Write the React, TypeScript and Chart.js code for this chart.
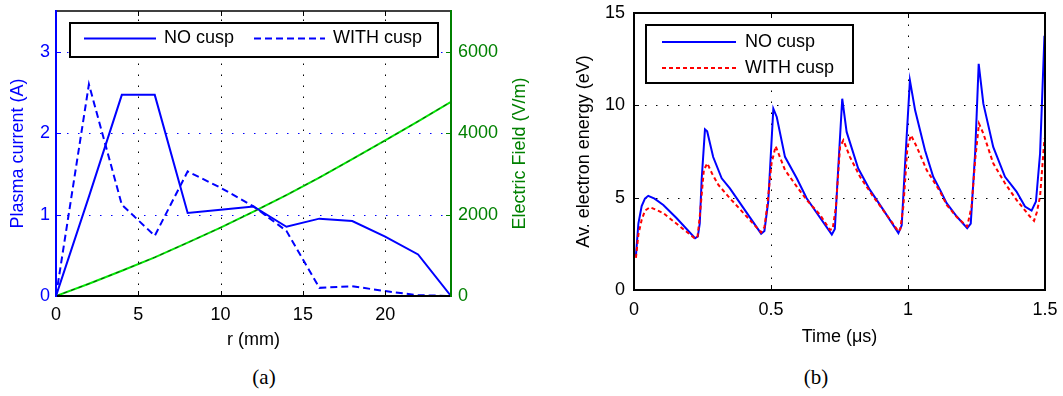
import { useEffect, useRef } from "react";
import { Chart, registerables } from "chart.js";

Chart.register(...registerables);

const FONT = "'Liberation Sans', Arial, Helvetica, sans-serif";

// ---------- (a) Plasma current / electric field vs radius ----------
const radiusMm = [0, 2, 4, 6, 8, 10, 12, 14, 16, 18, 20, 22, 24];
const currentNoCusp = [0, 1.22, 2.47, 2.47, 1.02, 1.06, 1.1, 0.85, 0.95, 0.92, 0.73, 0.51, 0];
const currentWithCusp = [0, 2.6, 1.12, 0.74, 1.53, 1.33, 1.1, 0.8, 0.1, 0.12, 0.06, 0.01, 0];
const fieldNoCusp = [0, 300, 620, 950, 1310, 1680, 2070, 2480, 2910, 3360, 3820, 4290, 4770];
const fieldWithCusp = [0, 300, 620, 950, 1310, 1680, 2070, 2480, 2910, 3360, 3820, 4290, 4770];
const xTicksA = [0, 5, 10, 15, 20];
const yTicksA = [0, 1, 2, 3];
const y2TicksA = [0, 2000, 4000, 6000];

// ---------- (b) Average electron energy vs time ----------
const timeNoCusp = [
  0.007, 0.016, 0.028, 0.04, 0.052, 0.075, 0.107, 0.155, 0.223, 0.233, 0.24, 0.247, 0.259, 0.267, 0.289, 0.32, 0.35,
  0.464, 0.476, 0.49, 0.5085, 0.521, 0.551, 0.594, 0.63, 0.722, 0.733, 0.745, 0.76, 0.776, 0.818, 0.861, 0.91, 0.965,
  0.977, 0.99, 1.007, 1.026, 1.062, 1.092, 1.117, 1.141, 1.178, 1.216, 1.229, 1.245, 1.258, 1.275, 1.311, 1.354, 1.396,
  1.427, 1.451, 1.467, 1.482, 1.498,
];
const energyNoCusp = [
  1.85, 3.6, 4.55, 4.95, 5.1, 4.95, 4.6, 3.9, 2.8, 2.9, 3.6, 6.0, 8.7, 8.6, 7.2, 6.05, 5.5,
  3.05, 3.2, 4.8, 9.82, 9.37, 7.21, 6.05, 4.97, 3.0, 3.3, 6.5, 10.36, 8.56, 6.59, 5.42, 4.34, 3.08,
  3.5, 7.0, 11.35, 9.73, 7.57, 6.13, 5.42, 4.7, 3.98, 3.35, 3.6, 7.4, 12.25, 10.09, 7.75, 6.13, 5.33,
  4.52, 4.3, 4.79, 7.39, 13.77,
];
const timeWithCusp = [
  0.007, 0.016, 0.028, 0.04, 0.058, 0.08, 0.107, 0.168, 0.223, 0.232, 0.24, 0.255, 0.2675, 0.285, 0.308, 0.35,
  0.464, 0.476, 0.486, 0.502, 0.517, 0.551, 0.594, 0.63, 0.679, 0.715, 0.725, 0.737, 0.752, 0.764, 0.788, 0.825,
  0.873, 0.922, 0.965, 0.972, 0.983, 0.998, 1.011, 1.032, 1.068, 1.117, 1.141, 1.178, 1.216, 1.232, 1.245, 1.259,
  1.275, 1.311, 1.354, 1.396, 1.445, 1.46, 1.47, 1.482, 1.498,
];
const energyWithCusp = [
  1.74, 3.0, 3.8, 4.3, 4.48, 4.35, 4.16, 3.44, 2.78, 2.9, 3.98, 6.5, 6.86, 6.3, 5.69, 4.97,
  3.12, 3.4, 4.52, 6.86, 7.79, 6.5, 5.6, 4.88, 4.07, 3.26, 3.3, 4.52, 7.75, 8.11, 7.21, 6.13,
  5.06, 4.07, 3.17, 3.3, 4.52, 7.75, 8.38, 7.75, 6.5, 5.33, 4.61, 3.95, 3.44, 4.52, 7.03, 9.01,
  8.47, 6.86, 5.78, 4.88, 3.98, 3.75, 4.2, 5.06, 8.2,
];
const xTicksB = [0, 0.5, 1, 1.5];
const yTicksB = [0, 5, 10, 15];

// ---------- helpers ----------
type Side = "left" | "right" | "top" | "bottom";
type Edge = { color: string; width: number };
type FrameCfg = {
  grids: { axis: string; values: number[]; color: string }[];
  ticks: { axis: string; values: number[]; color: string; sides: Side[] }[];
  edges: Record<Side, Edge>;
  legendBox: { x: number; y: number; w: number; h: number };
  legendItems: { dataset: number; x1: number; x2: number; y: number; tx: number }[];
  sideTitle?: { text: string; color: string; x: number };
};

function framePlugin(cfg: FrameCfg) {
  return {
    id: "frame",
    beforeDatasetsDraw(chart: any) {
      const { ctx, chartArea: a, scales } = chart;
      ctx.save();
      ctx.lineWidth = 1;
      ctx.setLineDash([1.5, 9.5]);
      for (const g of cfg.grids) {
        const s = scales[g.axis];
        ctx.strokeStyle = g.color;
        for (const v of g.values) {
          const p = Math.round(s.getPixelForValue(v)) + 0.5;
          ctx.beginPath();
          if (s.isHorizontal()) {
            ctx.moveTo(p, a.bottom);
            ctx.lineTo(p, a.top);
          } else {
            ctx.moveTo(a.left, p);
            ctx.lineTo(a.right, p);
          }
          ctx.stroke();
        }
      }
      ctx.restore();
    },
    afterDatasetsDraw(chart: any) {
      const { ctx, chartArea: a, scales } = chart;
      ctx.save();
      ctx.setLineDash([]);
      const L = 5;
      for (const t of cfg.ticks) {
        const s = scales[t.axis];
        ctx.strokeStyle = t.color;
        ctx.lineWidth = 1;
        for (const v of t.values) {
          const p = Math.round(s.getPixelForValue(v)) + 0.5;
          for (const side of t.sides) {
            ctx.beginPath();
            if (side === "bottom") { ctx.moveTo(p, a.bottom); ctx.lineTo(p, a.bottom - L); }
            if (side === "top") { ctx.moveTo(p, a.top); ctx.lineTo(p, a.top + L); }
            if (side === "left") { ctx.moveTo(a.left, p); ctx.lineTo(a.left + L, p); }
            if (side === "right") { ctx.moveTo(a.right, p); ctx.lineTo(a.right - L, p); }
            ctx.stroke();
          }
        }
      }
      const e = cfg.edges;
      const line = (x1: number, y1: number, x2: number, y2: number, ed: Edge) => {
        ctx.strokeStyle = ed.color;
        ctx.lineWidth = ed.width;
        ctx.beginPath();
        ctx.moveTo(x1, y1);
        ctx.lineTo(x2, y2);
        ctx.stroke();
      };
      line(a.left, a.top, a.right, a.top, e.top);
      line(a.left, a.bottom, a.right, a.bottom, e.bottom);
      line(a.left, a.top - 1, a.left, a.bottom + 1, e.left);
      line(a.right, a.top - 1, a.right, a.bottom + 1, e.right);
      ctx.restore();
    },
    afterDraw(chart: any) {
      const { ctx, chartArea: a } = chart;
      ctx.save();
      const b = cfg.legendBox;
      ctx.fillStyle = "#ffffff";
      ctx.fillRect(b.x, b.y, b.w, b.h);
      ctx.strokeStyle = "#000000";
      ctx.lineWidth = 2;
      ctx.setLineDash([]);
      ctx.strokeRect(b.x, b.y, b.w, b.h);
      ctx.font = `18px ${FONT}`;
      ctx.textBaseline = "middle";
      ctx.textAlign = "left";
      for (const it of cfg.legendItems) {
        const ds = chart.data.datasets[it.dataset];
        ctx.strokeStyle = ds.borderColor;
        ctx.lineWidth = ds.borderWidth;
        ctx.setLineDash(ds.borderDash || []);
        ctx.beginPath();
        ctx.moveTo(it.x1, it.y);
        ctx.lineTo(it.x2, it.y);
        ctx.stroke();
        ctx.fillStyle = "#000000";
        ctx.fillText(ds.label, it.tx, it.y);
      }
      if (cfg.sideTitle) {
        const st = cfg.sideTitle;
        ctx.translate(st.x, (a.top + a.bottom) / 2);
        ctx.rotate(-Math.PI / 2);
        ctx.textAlign = "center";
        ctx.fillStyle = st.color;
        ctx.fillText(st.text, 0, 0);
      }
      ctx.restore();
    },
  };
}

const tickFont = { family: FONT, size: 18 };
const setTicks = (vals: number[]) => (s: any) => {
  s.ticks = vals.map((v) => ({ value: v }));
};
const fmt = (v: any) => String(v);

const BLUE = "#0000ff";
const GREEN = "#008000";

function configA(): any {
  const W = 540, H = 360, LEFT = 56, RIGHT = 451, TOP = 11, BOTTOM = 296;
  return {
    type: "line",
    data: {
      datasets: [
        { label: "NO cusp", data: radiusMm.map((r, i) => ({ x: r, y: currentNoCusp[i] })), yAxisID: "y",
          borderColor: BLUE, borderWidth: 2, order: 1 },
        { label: "WITH cusp", data: radiusMm.map((r, i) => ({ x: r, y: currentWithCusp[i] })), yAxisID: "y",
          borderColor: BLUE, borderWidth: 2, borderDash: [7, 4], order: 1 },
        { label: "E field NO cusp", data: radiusMm.map((r, i) => ({ x: r, y: fieldNoCusp[i] })), yAxisID: "y1",
          borderColor: "#00ee00", borderWidth: 2, order: 3 },
        { label: "E field WITH cusp", data: radiusMm.map((r, i) => ({ x: r, y: fieldWithCusp[i] })), yAxisID: "y1",
          borderColor: "#1a3a1a", borderWidth: 1, borderDash: [4, 4], order: 2 },
      ],
    },
    options: {
      animation: false,
      responsive: false,
      maintainAspectRatio: false,
      layout: { padding: { top: TOP, left: 0, right: 0, bottom: 0 } },
      plugins: { legend: { display: false }, tooltip: { enabled: false } },
      elements: { point: { radius: 0 }, line: { tension: 0 } },
      scales: {
        x: {
          type: "linear", position: "bottom", min: 0, max: 24,
          afterBuildTicks: setTicks(xTicksA),
          afterFit: (s: any) => { s.height = H - BOTTOM; s.paddingLeft = 0; s.paddingRight = 0; },
          grid: { display: false, drawTicks: false }, border: { display: false },
          ticks: { font: tickFont, color: "#000", padding: 8, maxRotation: 0, autoSkip: false, callback: fmt },
          title: { display: true, text: "r (mm)", font: tickFont, color: "#000", padding: { top: 0, bottom: 9 } },
        },
        y: {
          type: "linear", position: "left", min: 0, max: 3.5,
          afterBuildTicks: setTicks(yTicksA),
          afterFit: (s: any) => { s.width = LEFT; s.paddingTop = 0; s.paddingBottom = 0; },
          grid: { display: false, drawTicks: false }, border: { display: false },
          ticks: { font: tickFont, color: BLUE, padding: 6, autoSkip: false, callback: fmt },
          title: { display: true, text: "Plasma current (A)", font: tickFont, color: BLUE, padding: { top: 7, bottom: 0 } },
        },
        y1: {
          type: "linear", position: "right", min: 0, max: 7000,
          afterBuildTicks: setTicks(y2TicksA),
          afterFit: (s: any) => { s.width = W - RIGHT; s.paddingTop = 0; s.paddingBottom = 0; },
          grid: { display: false, drawTicks: false }, border: { display: false },
          ticks: { font: tickFont, color: GREEN, padding: 7, autoSkip: false, callback: fmt },
        },
      },
    },
    plugins: [
      framePlugin({
        grids: [
          { axis: "x", values: xTicksA.slice(1), color: "#000000" },
          { axis: "y", values: yTicksA.slice(1), color: BLUE },
        ],
        ticks: [
          { axis: "x", values: xTicksA.slice(1), color: "#000000", sides: ["bottom", "top"] },
          { axis: "y", values: yTicksA.slice(1), color: BLUE, sides: ["left"] },
          { axis: "y1", values: y2TicksA.slice(1), color: GREEN, sides: ["right"] },
        ],
        edges: {
          left: { color: BLUE, width: 2 },
          right: { color: GREEN, width: 2 },
          top: { color: "#000000", width: 1.5 },
          bottom: { color: "#000000", width: 2 },
        },
        legendBox: { x: 70, y: 23, w: 368, h: 34 },
        legendItems: [
          { dataset: 0, x1: 84, x2: 156, y: 38.5, tx: 164 },
          { dataset: 1, x1: 254, x2: 325, y: 38.5, tx: 333 },
        ],
        sideTitle: { text: "Electric Field (V/m)", color: GREEN, x: 520 },
      }),
    ],
  };
}

function configB(): any {
  const H = 360, LEFT = 89, TOP = 13, BOTTOM = 290, PADR = 18;
  return {
    type: "line",
    data: {
      datasets: [
        { label: "NO cusp", data: timeNoCusp.map((t, i) => ({ x: t, y: energyNoCusp[i] })),
          borderColor: BLUE, borderWidth: 2, order: 2 },
        { label: "WITH cusp", data: timeWithCusp.map((t, i) => ({ x: t, y: energyWithCusp[i] })),
          borderColor: "#ff0000", borderWidth: 2, borderDash: [4, 3], order: 1 },
      ],
    },
    options: {
      animation: false,
      responsive: false,
      maintainAspectRatio: false,
      layout: { padding: { top: TOP, left: 0, right: PADR, bottom: 0 } },
      plugins: { legend: { display: false }, tooltip: { enabled: false } },
      elements: { point: { radius: 0 }, line: { tension: 0 } },
      scales: {
        x: {
          type: "linear", position: "bottom", min: 0, max: 1.5,
          afterBuildTicks: setTicks(xTicksB),
          afterFit: (s: any) => { s.height = H - BOTTOM; s.paddingLeft = 0; s.paddingRight = 0; },
          grid: { display: false, drawTicks: false }, border: { display: false },
          ticks: { font: tickFont, color: "#000", padding: 9, maxRotation: 0, autoSkip: false, callback: fmt },
          title: { display: true, text: "Time (μs)", font: tickFont, color: "#000", padding: { top: 0, bottom: 12 } },
        },
        y: {
          type: "linear", position: "left", min: 0, max: 15,
          afterBuildTicks: setTicks(yTicksB),
          afterFit: (s: any) => { s.width = LEFT; s.paddingTop = 0; s.paddingBottom = 0; },
          grid: { display: false, drawTicks: false }, border: { display: false },
          ticks: { font: tickFont, color: "#000", padding: 9, autoSkip: false, callback: fmt },
          title: { display: true, text: "Av. electron energy (eV)", font: tickFont, color: "#000", padding: { top: 28, bottom: 0 } },
        },
      },
    },
    plugins: [
      framePlugin({
        grids: [
          { axis: "x", values: xTicksB.slice(1, -1), color: "#000000" },
          { axis: "y", values: yTicksB.slice(1, -1), color: "#000000" },
        ],
        ticks: [
          { axis: "x", values: xTicksB.slice(1, -1), color: "#000000", sides: ["bottom", "top"] },
          { axis: "y", values: yTicksB.slice(1, -1), color: "#000000", sides: ["left", "right"] },
        ],
        edges: {
          left: { color: "#000000", width: 2 },
          right: { color: "#000000", width: 2 },
          top: { color: "#000000", width: 2 },
          bottom: { color: "#000000", width: 2 },
        },
        legendBox: { x: 101, y: 25, w: 207, h: 58 },
        legendItems: [
          { dataset: 0, x1: 117, x2: 191, y: 42, tx: 200 },
          { dataset: 1, x1: 117, x2: 191, y: 68, tx: 200 },
        ],
      }),
    ],
  };
}

export default function App() {
  const refA = useRef<HTMLCanvasElement>(null);
  const refB = useRef<HTMLCanvasElement>(null);
  useEffect(() => {
    const a = new Chart(refA.current as HTMLCanvasElement, configA());
    const b = new Chart(refB.current as HTMLCanvasElement, configB());
    return () => {
      a.destroy();
      b.destroy();
    };
  }, []);
  const caption = {
    position: "absolute" as const,
    top: 365,
    width: 100,
    textAlign: "center" as const,
    font: "21px 'Liberation Serif', 'Times New Roman', serif",
    lineHeight: "24px",
    color: "#000",
  };
  return (
    <div style={{ position: "absolute", left: 0, top: 0, width: 1063, height: 396, background: "#fff", overflow: "hidden" }}>
      <canvas ref={refA} width={540} height={360} style={{ position: "absolute", left: 0, top: 0, width: 540, height: 360 }} />
      <canvas ref={refB} width={518} height={360} style={{ position: "absolute", left: 545, top: 0, width: 518, height: 360 }} />
      <div style={{ ...caption, left: 214 }}>(a)</div>
      <div style={{ ...caption, left: 766 }}>(b)</div>
    </div>
  );
}
